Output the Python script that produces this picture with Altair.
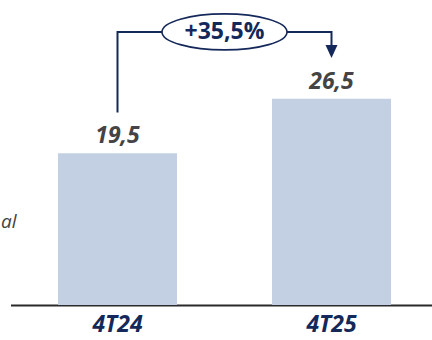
import altair as alt
import pandas as pd

categories = ["4T24", "4T25"]
values = [19.5, 26.5]
value_labels = ["19,5", "26,5"]
growth_label = "+35,5%"
side_text = "al"

NAVY = "#14285a"
BAR = "#c3cfe2"
FONT = "Open Sans"

bars_df = pd.DataFrame({"cat": categories, "value": values, "label": value_labels})

gap = 5.25          # space between bar value and bracket end (data units)
level = 35.1        # height of the bracket (data units)
bracket_df = pd.DataFrame({
    "cat": [categories[0], categories[0], categories[1], categories[1]],
    "y": [values[0] + gap, level, level, values[1] + gap + 1.2],
    "order": [0, 1, 2, 3],
})
arrow_df = pd.DataFrame({"cat": [categories[1]], "y": [values[1] + gap]})
badge_df = pd.DataFrame({"cat": [categories[0], categories[1]], "y": [level, level], "label": [growth_label, growth_label]})

xscale = alt.Scale(domain=categories, range=[10.5, 438.5], paddingInner=0.444, paddingOuter=0.222)
yscale = alt.Scale(domain=[0, 39.2], nice=False)

x = alt.X("cat:N", scale=xscale, sort=categories,
          axis=alt.Axis(title=None, ticks=False, labelAngle=0, labelFontSize=23,
                        labelFont=FONT, labelFontWeight="bold", labelFontStyle="italic",
                        labelColor=NAVY, labelPadding=8, domainColor="#2a2a2a",
                        domainWidth=2, grid=False))

bars = alt.Chart(bars_df).mark_bar(color=BAR).encode(
    x=x, y=alt.Y("value:Q", scale=yscale, axis=None))

labels = alt.Chart(bars_df).mark_text(
    font=FONT, fontSize=23, fontWeight="bold", fontStyle="italic", color="#444444",
    baseline="alphabetic", dy=-10).encode(
    x=alt.X("cat:N", scale=xscale, sort=categories),
    y=alt.Y("value:Q", scale=yscale), text="label:N")

bracket = alt.Chart(bracket_df).mark_line(color=NAVY, strokeWidth=2, strokeJoin="miter").encode(
    x=alt.X("cat:N", scale=xscale, sort=categories),
    y=alt.Y("y:Q", scale=yscale), order="order:Q")

arrow = alt.Chart(arrow_df).mark_point(
    shape="M-1,-2.17 L1,-2.17 L0,0 Z", size=144, filled=True, color=NAVY, opacity=1).encode(
    x=alt.X("cat:N", scale=xscale, sort=categories),
    y=alt.Y("y:Q", scale=yscale))

badge_base = alt.Chart(badge_df).transform_aggregate(
    y="mean(y)", groupby=["label"]).encode(
    x=alt.value(224.5), y=alt.Y("y:Q", scale=yscale))

ellipse = badge_base.mark_point(
    shape="M-1,0 A1,0.288 0 1,0 1,0 A1,0.288 0 1,0 -1,0 Z", size=15625,
    filled=False, fill="white", fillOpacity=1, stroke=NAVY, strokeWidth=1.6, opacity=1)

badge_text = badge_base.mark_text(
    font=FONT, fontSize=23, fontWeight="bold", color=NAVY, baseline="middle").encode(
    text="label:N")

side = alt.Chart(pd.DataFrame({"t": [side_text]})).mark_text(
    font=FONT, fontSize=19, fontStyle="italic", color="#444444", align="left",
    baseline="middle").encode(x=alt.value(1), y=alt.value(222), text="t:N")

chart = alt.layer(bars, labels, bracket, arrow, ellipse, badge_text, side).properties(
    width=432, height=305,
    autosize=alt.AutoSizeParams(type="none"),
    padding={"left": 0, "top": 0, "right": 0, "bottom": 35},
    background="white",
).configure_view(stroke=None)

chart.save("out.html", embed_options={"renderer": "svg", "actions": False})
